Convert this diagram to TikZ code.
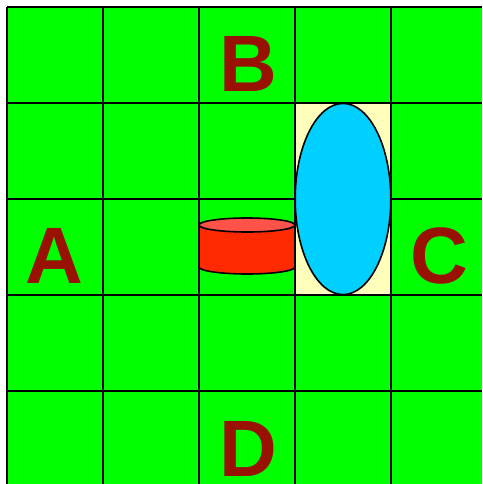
\documentclass[tikz,border=0pt]{standalone}
\usepackage{fontspec}
\setmainfont{Liberation Sans}
\definecolor{gridgreen}{HTML}{00FF00}
\definecolor{paleyellow}{HTML}{FFFFBB}
\definecolor{skyblue}{HTML}{00D0FF}
\definecolor{cylred}{HTML}{FF2A00}
\definecolor{cyltop}{HTML}{FF5248}
\definecolor{lettercol}{HTML}{991100}
\begin{document}
\begin{tikzpicture}[x=1pt,y=1pt,
  gridline/.style={line width=1.8pt,draw=black},
  outline/.style={line width=1.6pt,draw=black},
  letter/.style={anchor=base,inner sep=0pt,text=lettercol,font=\fontsize{80}{80}\selectfont\bfseries}]
\useasboundingbox (0,0) rectangle (482,-484);
\fill[white] (0,0) rectangle (482,-484);
\fill[gridgreen] (7,-7) rectangle (482,-484);
% grid
\foreach \x in {7,103,199,295,391} \draw[gridline] (\x,-7) -- (\x,-484);
\foreach \y in {7,103,199,295,391} \draw[gridline] (7,-\y) -- (482,-\y);
% yellow cell pair
\filldraw[fill=paleyellow,draw=black,line width=1.8pt] (295,-103) rectangle (391,-295);
% ellipse
\filldraw[fill=skyblue,outline] (343,-199) ellipse [x radius=47.8pt,y radius=95.6pt];
% cylinder
\fill[cylred] (199,-225) rectangle (295,-267);
\fill[cylred] (247,-267) ellipse [x radius=48pt,y radius=7pt];
\draw[outline] (199,-225) -- (199,-267) arc[start angle=180,end angle=360,x radius=48pt,y radius=7pt] -- (295,-225);
\filldraw[fill=cyltop,outline] (247,-225) ellipse [x radius=48pt,y radius=7pt];
% letters
\node[letter] (B) at (248,-92) {B};
\node[letter] (A) at (54,-283) {A};
\node[letter] (C) at (439,-283) {C};
\node[letter] (D) at (248,-476) {D};
\end{tikzpicture}
\end{document}
